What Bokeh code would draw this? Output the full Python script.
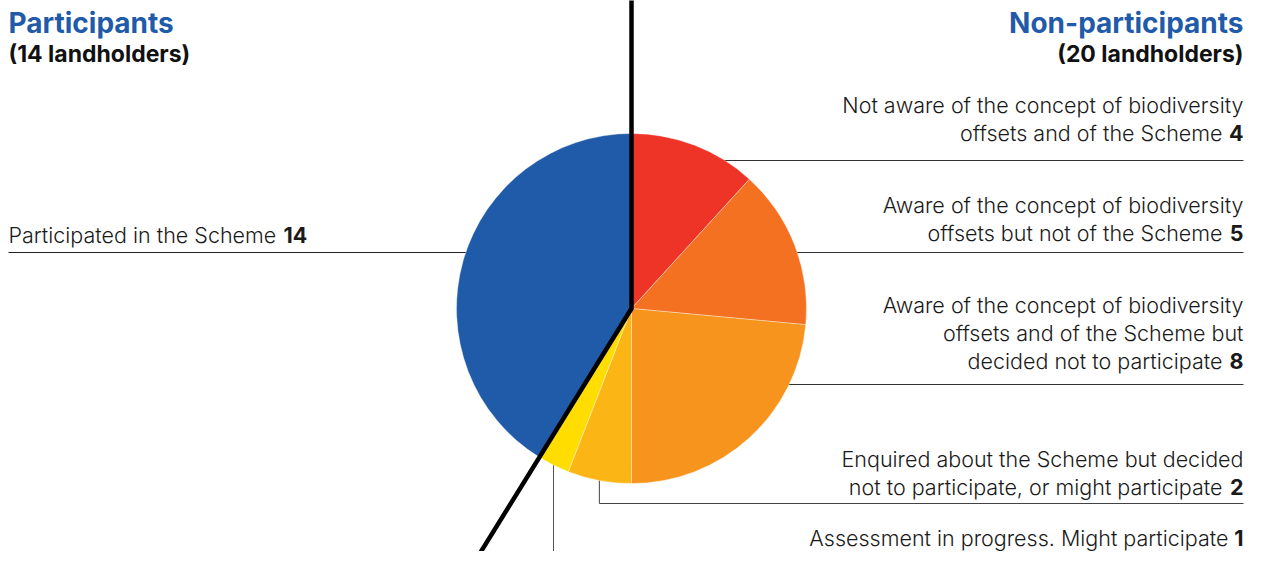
import math
from bokeh.plotting import figure
from bokeh.models import ColumnDataSource, Range1d
from bokeh.core.properties import value
from bokeh.embed import file_html
from bokeh.resources import INLINE

# ---------------- data ----------------
categories = [
    "Not aware of the concept of biodiversity offsets and of the Scheme",
    "Aware of the concept of biodiversity offsets but not of the Scheme",
    "Aware of the concept of biodiversity offsets and of the Scheme but decided not to participate",
    "Enquired about the Scheme but decided not to participate, or might participate",
    "Assessment in progress. Might participate",
    "Participated in the Scheme",
]
values = [4, 5, 8, 2, 1, 14]
colors = ["#ee3427", "#f37121", "#f7941d", "#fbb616", "#ffdd00", "#1f5ba8"]
label_lines = [
    ["Not aware of the concept of biodiversity", "offsets and of the Scheme"],
    ["Aware of the concept of biodiversity", "offsets but not of the Scheme"],
    ["Aware of the concept of biodiversity", "offsets and of the Scheme but", "decided not to participate"],
    ["Enquired about the Scheme but decided", "not to participate, or might participate"],
    ["Assessment in progress. Might participate"],
    ["Participated in the Scheme"],
]
group_titles = ["Participants", "Non-participants"]
group_counts = ["(14 landholders)", "(20 landholders)"]
non_participant_count = 20

# ---------------- layout (image pixel space, y measured from top) ----------------
W, H = 1245, 551
cx, cy_img, R = 631, 308, 175
cy = H - cy_img
RIGHT = 1243
LEFT = 8
FONT = "Inter Light"
BFONT = "Inter"
TXT = "#1a1a1a"
BLUE = "#1f5ba8"
FS = 21.5
line_gap = 28
last_baselines = [140, 240, 368, 494, 545, 242]
leader_y = [160, 252, 384, 503, None, 252]
num_gaps = [21, 21, 21, 21, 15]

def Y(img_y):
    return H - img_y

def TY(img_baseline, size):
    # compensate the renderer's baseline placement
    return H - (img_baseline - 0.37 * size)

p = figure(width=W, height=H, output_backend="svg", toolbar_location=None,
           x_range=Range1d(0, W), y_range=Range1d(0, H),
           min_border=0, background_fill_color="white", border_fill_color="white")
p.axis.visible = False
p.grid.visible = False
p.outline_line_color = None

total = sum(values)
cum = [0]
for v in values:
    cum.append(cum[-1] + v)

def pt(frac, dist):
    th = 2 * math.pi * frac
    return cx + dist * math.sin(th), cy + dist * math.cos(th)

# ---------------- leader lines ----------------
for i in range(len(values)):
    mid = (cum[i] + cum[i + 1]) / 2 / total
    if i in (0, 1, 2):
        yy = leader_y[i]
        dy = yy - cy_img
        ex = cx + math.sqrt(max(R * R - dy * dy, 0))
        p.line([ex - 2, RIGHT], [Y(yy), Y(yy)], line_color="#333333", line_width=1)
    elif i == 3:
        mx, my = pt(mid, R)
        yy = leader_y[i]
        p.line([mx, mx, RIGHT], [my + 2, Y(yy), Y(yy)], line_color="#444444", line_width=1)
    elif i == 4:
        mx, my = pt(mid, R)
        p.line([mx, mx], [my + 2, Y(H + 20)], line_color="#555555", line_width=1)
    else:
        yy = leader_y[i]
        dy = yy - cy_img
        ex = cx - math.sqrt(max(R * R - dy * dy, 0))
        p.line([LEFT, ex + 2], [Y(yy), Y(yy)], line_color="#222222", line_width=1)

# ---------------- pie ----------------
starts = [math.pi / 2 - 2 * math.pi * cum[i + 1] / total for i in range(len(values))]
ends = [math.pi / 2 - 2 * math.pi * cum[i] / total for i in range(len(values))]
src = ColumnDataSource(dict(start=starts, end=ends, color=colors, cat=categories, val=values))
p.wedge(x=cx, y=cy, radius=R, start_angle="start", end_angle="end", direction="anticlock",
        fill_color="color", line_color="white", line_width=0.6, line_alpha=0.6, source=src)

# ---------------- black divider ----------------
bx0, by0 = pt(0, 340)
bx1, by1 = pt(non_participant_count / total, 340)
p.line([bx0, cx, bx1], [by0, cy, by1], line_color="black", line_width=4.5, line_join="miter")

# ---------------- labels ----------------
fs = f"{FS}px"
for i, lines in enumerate(label_lines):
    n = len(lines)
    base = last_baselines[i]
    if i < 5:
        xs, ys = [], []
        for k, ln in enumerate(lines):
            xs.append(RIGHT - (num_gaps[i] if k == n - 1 else 0))
            ys.append(TY(base - (n - 1 - k) * line_gap, FS))
        p.text(x=xs, y=ys, text=lines, text_align="right", text_baseline="alphabetic",
               text_font=value(FONT), text_font_size=fs, text_color=TXT)
        p.text(x=[RIGHT], y=[TY(base, FS)], text=[str(values[i])], text_align="right",
               text_baseline="alphabetic", text_font=value(BFONT), text_font_size=fs,
               text_font_style="bold", text_color=TXT)
    else:
        p.text(x=[LEFT], y=[TY(base, FS)], text=[lines[0]], text_align="left", text_baseline="alphabetic",
               text_font=value(FONT), text_font_size=fs, text_color=TXT)
        p.text(x=[283], y=[TY(base, FS)], text=[str(values[i])], text_align="left",
               text_baseline="alphabetic", text_font=value(BFONT), text_font_size=fs,
               text_font_style="bold", text_color=TXT)

# ---------------- group titles ----------------
p.text(x=[LEFT], y=[TY(33, 28)], text=[group_titles[0]], text_align="left", text_baseline="alphabetic",
       text_font=value(BFONT), text_font_size="28px", text_font_style="bold", text_color=BLUE)
p.text(x=[LEFT], y=[TY(62, 23)], text=[group_counts[0]], text_align="left", text_baseline="alphabetic",
       text_font=value(BFONT), text_font_size="23px", text_font_style="bold", text_color="#111111")
p.text(x=[RIGHT], y=[TY(33, 28)], text=[group_titles[1]], text_align="right", text_baseline="alphabetic",
       text_font=value(BFONT), text_font_size="28px", text_font_style="bold", text_color=BLUE)
p.text(x=[RIGHT], y=[TY(62, 23)], text=[group_counts[1]], text_align="right", text_baseline="alphabetic",
       text_font=value(BFONT), text_font_size="23px", text_font_style="bold", text_color="#111111")

open("out.html", "w").write(file_html(p, INLINE))
